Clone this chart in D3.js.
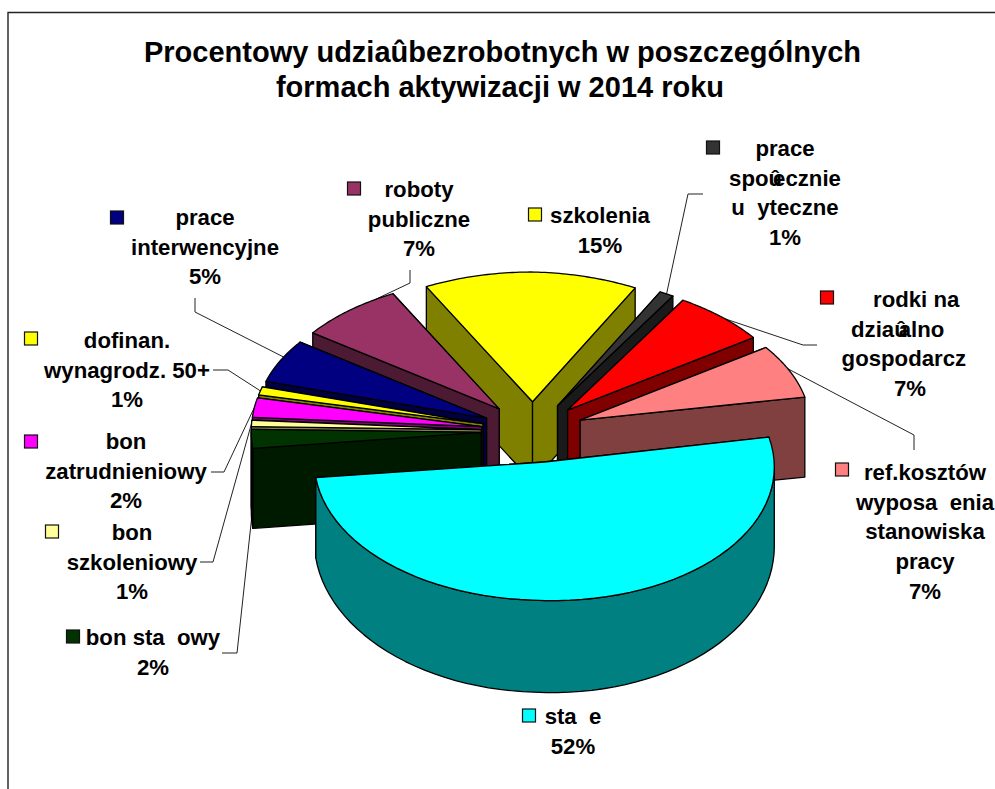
<!DOCTYPE html>
<html><head><meta charset="utf-8">
<script src="https://cdn.jsdelivr.net/npm/d3@7"></script>
<style>html,body{margin:0;padding:0;background:#fff}svg{display:block}
text{font-family:"Liberation Sans",Arial,sans-serif;font-weight:bold;fill:#000}</style>
</head><body><div id="chart"></div>
<script>
// ---- data ----
const titleLines = ["Procentowy udziaûbezrobotnych w poszczególnych", "formach aktywizacji w 2014 roku"];
const categories = ["szkolenia","prace społecznie użyteczne","środki na działalność gospodarczą","ref.kosztów wyposażenia stanowiska pracy","staże","bon stażowy","bon szkoleniowy","bon zatrudnieniowy","dofinan. wynagrodz. 50+","prace interwencyjne","roboty publiczne"];
const values = [15, 1, 6.6, 6.6, 51.6, 2.2, 0.8, 2.4, 1, 5.4, 7.4];
const colors = ["#FFFF00","#333333","#FF0000","#FF8080","#00FFFF","#003300","#FFFF99","#FF00FF","#FFFF00","#000080","#993366"];
const labelLines = [
  ["szkolenia"],
  ["prace","spoû|ecznie","u\u00a0\u00a0yteczne"],
  ["\u00a0\u00a0rodki na","dziaû|alno\u00a0\u00a0\u00a0\u00a0","gospodarcz\u00a0\u00a0"],
  ["ref.kosztów","wyposa\u00a0\u00a0enia","stanowiska","pracy"],
  ["sta\u00a0\u00a0e"],
  ["bon sta\u00a0\u00a0owy"],
  ["bon","szkoleniowy"],
  ["bon","zatrudnieniowy"],
  ["dofinan.","wynagrodz. 50+"],
  ["prace","interwencyjne"],
  ["roboty","publiczne"]
];
// ---- layout (label centre, first baseline, legend key, leader start + elbow) ----
const labelPos = [[600,223],[785,156],[910,307],[925,480],[573,724],[153,645],[132,540],[126,449],[127,348],[205,225],[419,197]];
const keyPos = [[535,215],[713,148],[827,298],[842,470],[529,716],[73,637],[52,532],[31,442],[31,339],[117,218],[354,189]];
const leaderStart = [null,[703,194,688,194],[817,345,803,345],[914,450,914,435],null,[222,653,237,653],[200,562,213,562],[211,472,224,472],[213,370,228,370],[195,298,195,312],[410,270,410,283]];
const leaderFrac = [0,.5,.55,.45,0,.5,.5,.5,.5,.6,.8];
const nudgeU = [0,0,0,0,.012,0,0,0,0,0,0];

const W = 995, H = 789;
const svg = d3.select("#chart").append("svg").attr("width",W).attr("height",H);
const rad = d => d*Math.PI/180;

// ground plane of the 3-D pie -> screen
const sx = d3.scaleLinear().domain([-1,1]).range([533-230,533+230]);
const sy = d3.scaleLinear().domain([-1.225,0,1.22]).range([272,431,600]);
const tilt = d3.scaleLinear().domain([0,1.2]).range([0,6]).clamp(true);
const depth = d3.scaleLinear().domain([.3,1.22]).range([80,92]).clamp(true);
const explode = .225;

const arcs = d3.pie().value(d=>d).sort(null).startAngle(rad(-27.5)).endAngle(rad(332.5))(values)
  .map((a,i)=>({...a,i,mid:(a.startAngle+a.endAngle)/2}));

const ground = (a,r,th)=>[
  nudgeU[a.i]+explode*Math.sin(a.mid)+r*Math.sin(th),
  -explode*Math.cos(a.mid)-r*Math.cos(th)];
const top3 = ([u,v])=>[sx(u),sy(v)+tilt(u)];
const base3 = ([u,v])=>[sx(u),sy(v)+tilt(u)+depth(v)];
const line = d3.line();

function shade(c){const k=d3.rgb(c);return d3.rgb(k.r*.5,k.g*.5,k.b*.5).formatHex();}
const rimAngles = (a0,a1)=>d3.range(0,61).map(k=>a0+(a1-a0)*k/60);

// frame
svg.append("path").attr("d",line([[8,789],[8,12.5],[995,12.5]])).attr("fill","none").attr("stroke","#222").attr("stroke-width",1.4);

// title
svg.selectAll("text.title").data(titleLines).join("text").attr("class","title")
  .attr("x",(d,i)=>[502.5,500][i]).attr("y",(d,i)=>62+i*35).attr("text-anchor","middle")
  .attr("font-size",29).text(d=>d);

// leaders (drawn behind the pie)
const leaders = svg.append("g");
arcs.forEach(a=>{
  const s = leaderStart[a.i]; if(!s) return;
  const th = a.startAngle+(a.endAngle-a.startAngle)*leaderFrac[a.i];
  const g = ground(a,1,th);
  const end = categories[a.i]==="bon stażowy" ? base3(g) : top3(g);
  leaders.append("path").attr("d",line([[s[0],s[1]],[s[2],s[3]],end]))
    .attr("fill","none").attr("stroke","#222").attr("stroke-width",1);
});

// slices, back to front
const order = arcs.slice().sort((p,q)=>{
  const dist = a=>{let m=a.mid;if(m>Math.PI)m=2*Math.PI-m;return Math.abs(m);};
  return dist(p)-dist(q);
});
const pie = svg.append("g").attr("stroke","#000").attr("stroke-width",1.3).attr("stroke-linejoin","round");
order.forEach(a=>{
  const g = pie.append("g");
  const dark = shade(colors[a.i]);
  const apex = ground(a,0,0);
  const walls = a.mid>Math.PI ? [a.endAngle,a.startAngle] : [a.startAngle,a.endAngle];
  walls.forEach(th=>{
    const rim = ground(a,1,th);
    g.append("path").attr("d",line([top3(apex),top3(rim),base3(rim),base3(apex)])+"Z").attr("fill",dark);
  });
  const lo = Math.max(a.startAngle,rad(90)), hi = Math.min(a.endAngle,rad(270));
  if(hi>lo){
    const ang = rimAngles(lo,hi);
    const pts = ang.map(t=>top3(ground(a,1,t))).concat(ang.slice().reverse().map(t=>base3(ground(a,1,t))));
    g.append("path").attr("d",line(pts)+"Z").attr("fill",dark);
  }
  const rimTop = rimAngles(a.startAngle,a.endAngle).map(t=>top3(ground(a,1,t)));
  g.append("path").attr("d",line([top3(apex),...rimTop])+"Z").attr("fill",colors[a.i]);
});

// labels
const pct = d=>Math.round(d)+"%";
arcs.forEach(a=>{
  const [x,y] = labelPos[a.i];
  const lines = labelLines[a.i].concat([pct(a.value)]);
  lines.forEach((ln,k)=>{
    const t = svg.append("text").attr("x",x).attr("y",y+k*29.7).attr("text-anchor","middle").attr("font-size",22.2).attr("xml:space","preserve");
    const parts = ln.split("|");
    t.append("tspan").text(parts[0]);
    if(parts[1]) t.append("tspan").attr("dx",-9).text(parts[1]);
  });
  const [kx,ky] = keyPos[a.i];
  svg.append("rect").attr("x",kx-6.5).attr("y",ky-7).attr("width",13).attr("height",13)
    .attr("fill",colors[a.i]).attr("stroke","#111").attr("stroke-width",1.2);
});
</script></body></html>
